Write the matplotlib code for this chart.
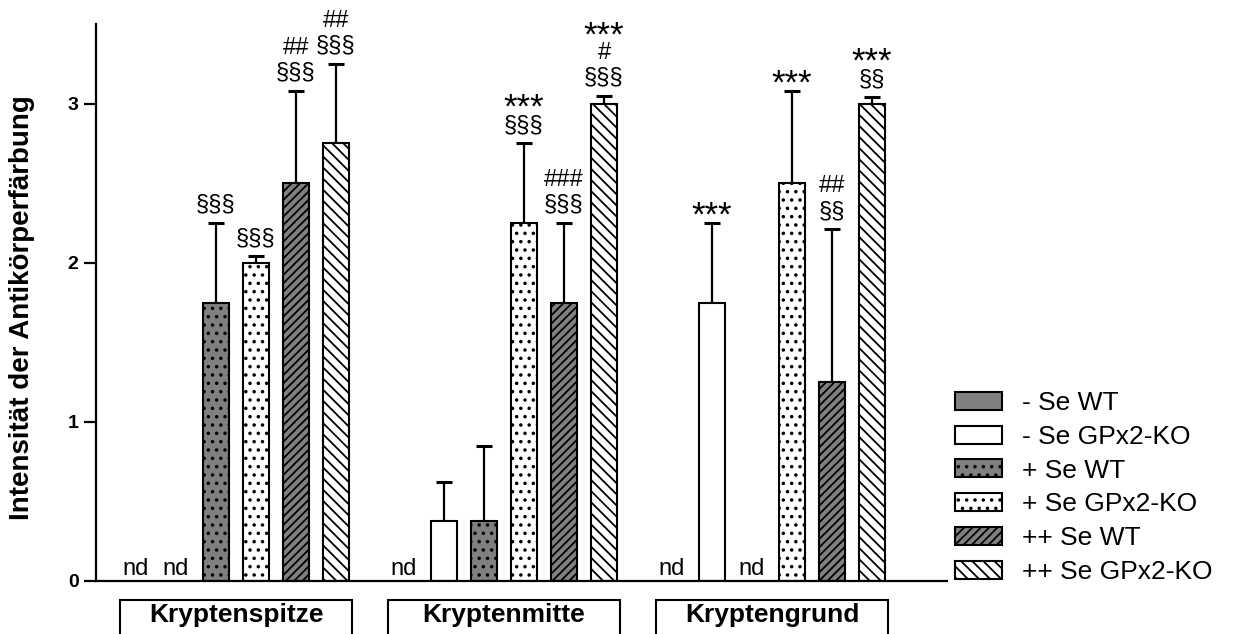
import numpy as np
import matplotlib
matplotlib.use("Agg")
import matplotlib.pyplot as plt
from matplotlib.patches import Rectangle, Patch
import matplotlib.transforms as mtransforms

plt.rcParams['font.family'] = ['Liberation Sans', 'DejaVu Sans']
plt.rcParams['hatch.linewidth'] = 1.3

# data (nan = nd)
groups = ['Kryptenspitze', 'Kryptenmitte', 'Kryptengrund']
series = ['- Se WT', '- Se GPx2-KO', '+ Se WT', '+ Se GPx2-KO', '++ Se WT', '++ Se GPx2-KO']
nan = np.nan
means = np.array([
    [nan, nan, 1.75, 2.00, 2.50, 2.75],
    [nan, 0.375, 0.375, 2.25, 1.75, 3.00],
    [nan, 1.75, nan, 2.50, 1.25, 3.00],
])
errs = np.array([
    [0, 0, 0.50, 0.04, 0.58, 0.50],
    [0, 0.25, 0.475, 0.50, 0.50, 0.05],
    [0, 0.50, 0, 0.58, 0.96, 0.04],
])
# significance marks, lines from top to bottom
marks = [
    ['', '', '§§§', '§§§', '##\n§§§', '##\n§§§'],
    ['', '', '', '***\n§§§', '###\n§§§', '***\n#\n§§§'],
    ['', '***', '', '***', '##\n§§', '***\n§§'],
]

# styles per series
faces = ['#808080', 'white', '#808080', 'white', '#808080', 'white']
hatches = [None, None, '..', '..', '////', '\\\\\\']

fig = plt.figure(figsize=(12.49, 6.34), dpi=100)
ax = fig.add_axes([0.0769, 0.0836, 0.6813, 0.8785])

width = 0.67
centers = np.arange(len(groups)) * 6.7
offs = np.arange(len(series)) - 2.5

px = 0.72  # points per pixel at 100 dpi


def put_marks(x, top, text):
    # stack lines upward from the top of the error bar
    y = 8
    for line in text.split('\n')[::-1]:
        if line.startswith('*'):
            size, ink_b, ink_h = 25, 11, 11
        elif line.startswith('#'):
            size, ink_b, ink_h = 17, 0, 15
        else:
            size, ink_b, ink_h = 17, -4, 20
        ax.annotate(line, (x, top), xytext=(0, (y - ink_b) * px),
                    textcoords='offset points', ha='center', va='baseline',
                    fontsize=size, annotation_clip=False)
        y += ink_h + 9


for j, name in enumerate(series):
    xs = centers + offs[j]
    m = means[:, j]
    ok = ~np.isnan(m)
    ax.bar(xs[ok], m[ok], width, color=faces[j], edgecolor='black',
           linewidth=1.5, hatch=hatches[j], zorder=2)
    e = errs[:, j][ok]
    ax.errorbar(xs[ok], m[ok], yerr=[np.zeros_like(e), e], fmt='none',
                ecolor='black', elinewidth=1.6, capsize=5.5, capthick=2.2,
                zorder=1)
    for g in range(len(groups)):
        if np.isnan(means[g, j]):
            ax.annotate('nd', (xs[g], 0), xytext=(0, 6 * px),
                        textcoords='offset points', ha='center',
                        va='baseline', fontsize=17)
        elif marks[g][j]:
            put_marks(xs[g], means[g, j] + errs[g, j], marks[g][j])

ax.set_xlim(-3.5, 17.775)
ax.set_ylim(0, 3.5)
ax.set_yticks([0, 1, 2, 3])
ax.set_xticks([])
ax.spines['top'].set_visible(False)
ax.spines['right'].set_visible(False)
for s in ['left', 'bottom']:
    ax.spines[s].set_linewidth(1.6)
ax.tick_params(axis='y', length=8.6, width=1.6, pad=4, labelsize=14)
for t in ax.get_yticklabels():
    t.set_fontweight('bold')
ax.set_ylabel('Intensität der Antikörperfärbung', fontsize=20,
              fontweight='bold')
ax.yaxis.set_label_coords(-0.0717, 0.491)

# boxed group labels under the axis
trans = mtransforms.blended_transform_factory(ax.transData, ax.transAxes)
for g, name in enumerate(groups):
    ax.add_patch(Rectangle((centers[g] - 2.9, -0.2), 5.8, 0.2 - 0.034,
                           transform=trans, fill=False, edgecolor='black',
                           linewidth=1.5, clip_on=False))
    ax.text(centers[g], -0.0736, name, transform=trans, ha='center',
            va='baseline', fontsize=19, fontweight='bold')

handles = [Patch(facecolor=faces[j], edgecolor='black', linewidth=1.5,
                 hatch=hatches[j]) for j in range(len(series))]
fig.legend(handles, series, loc='center left', bbox_to_anchor=(0.7646, 0.231),
           frameon=False, fontsize=19, handlelength=1.78, handleheight=0.68,
           handletextpad=0.76, labelspacing=0.37, borderpad=0, borderaxespad=0)

fig.savefig('out.png', dpi=100)
